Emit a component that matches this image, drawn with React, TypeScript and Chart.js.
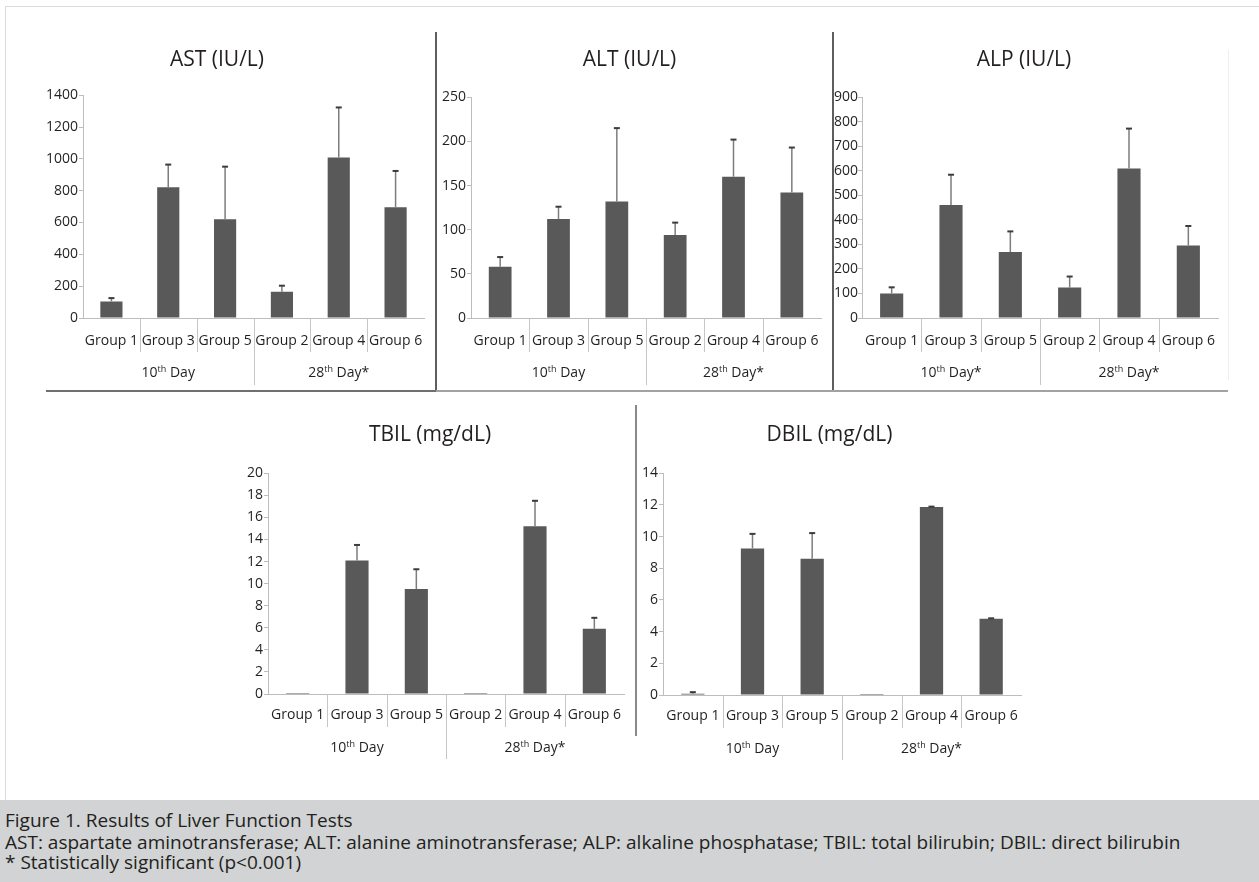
import React, { useEffect, useRef } from "react";
import { Chart, registerables } from "chart.js";
Chart.register(...registerables);

// ---------- data ----------
const groupLabels = ["Group 1", "Group 3", "Group 5", "Group 2", "Group 4", "Group 6"];

const astMeans = [104, 821, 621, 165, 1009, 696];
const astErrors = [21, 143, 330, 38, 314, 228];

const altMeans = [58, 112, 132, 94, 160, 142];
const altErrors = [11, 14, 83, 14, 42, 51];

const alpMeans = [100, 461, 269, 124, 609, 296];
const alpErrors = [25, 123, 84, 45, 163, 79];

const tbilMeans = [0.1, 12.1, 9.5, 0.1, 15.2, 5.9];
const tbilErrors = [0, 1.4, 1.8, 0, 2.3, 1.0];

const dbilMeans = [0.08, 9.25, 8.6, 0.06, 11.87, 4.82];
const dbilErrors = [0.1, 0.92, 1.62, 0, 0.02, 0.02];

// day group labels: [number, superscript, rest]
const dayLabelsA = [["10", "th", " Day"], ["28", "th", " Day*"]];
const dayLabelsB = [["10", "th", " Day*"], ["28", "th", " Day*"]];

const captionTitle = "Figure 1. Results of Liver Function Tests";
const captionAbbrev =
  "AST: aspartate aminotransferase; ALT: alanine aminotransferase; ALP: alkaline phosphatase; TBIL: total bilirubin; DBIL: direct bilirubin";
const captionNote = "* Statistically significant (p<0.001)";

// ---------- panel layout ----------
type Panel = {
  title: string;
  means: number[];
  errors: number[];
  days: string[][];
  yMax: number;
  yStep: number;
  left: number;
  top: number;
  width: number;
  height: number;
  yW: number;
  xH: number;
  padRight: number;
  tPadTop: number;
  tPadBottom: number;
  labelPad: number;
  yPad: number;
  shortTick: number;
  longTick: number;
  dayOffset: number;
};

const panels: Panel[] = [
  { title: "AST (IU/L)", means: astMeans, errors: astErrors, days: dayLabelsA, yMax: 1400, yStep: 200,
    left: 10, top: 30, width: 467, height: 360, yW: 73, xH: 72, padRight: 53, tPadTop: 17, tPadBottom: 23,
    labelPad: 15, yPad: 1, shortTick: 34, longTick: 67, dayOffset: 54 },
  { title: "ALT (IU/L)", means: altMeans, errors: altErrors, days: dayLabelsA, yMax: 250, yStep: 50,
    left: 438, top: 30, width: 400, height: 360, yW: 33, xH: 72, padRight: 17, tPadTop: 17, tPadBottom: 25,
    labelPad: 15, yPad: 1, shortTick: 34, longTick: 67, dayOffset: 54 },
  { title: "ALP (IU/L)", means: alpMeans, errors: alpErrors, days: dayLabelsB, yMax: 900, yStep: 100,
    left: 830, top: 30, width: 411, height: 360, yW: 32, xH: 72, padRight: 23, tPadTop: 17, tPadBottom: 25,
    labelPad: 15, yPad: 0, shortTick: 34, longTick: 67, dayOffset: 54 },
  { title: "TBIL (mg/dL)", means: tbilMeans, errors: tbilErrors, days: dayLabelsA, yMax: 20, yStep: 2,
    left: 236, top: 405, width: 418, height: 355, yW: 32, xH: 66, padRight: 30, tPadTop: 17, tPadBottom: 26,
    labelPad: 13, yPad: 1, shortTick: 33, longTick: 65, dayOffset: 53 },
  { title: "DBIL (mg/dL)", means: dbilMeans, errors: dbilErrors, days: dayLabelsA, yMax: 14, yStep: 2,
    left: 638, top: 405, width: 410, height: 355, yW: 25, xH: 65, padRight: 27, tPadTop: 17, tPadBottom: 26,
    labelPad: 13, yPad: 1, shortTick: 33, longTick: 65, dayOffset: 53 },
];

const FONT = "'Open Sans', 'DejaVu Sans', sans-serif";

function makeDecor(p: Panel) {
  return {
    id: "decor",
    afterDatasetsDraw(chart: any) {
      const { ctx } = chart;
      const y = chart.scales.y;
      const meta = chart.getDatasetMeta(0);
      ctx.save();
      meta.data.forEach((bar: any, i: number) => {
        const e = p.errors[i];
        if (!e) return;
        const v = p.means[i];
        const yb = y.getPixelForValue(v);
        const yt = y.getPixelForValue(v + e);
        ctx.strokeStyle = "#7d7d7d";
        ctx.lineWidth = 1.5;
        ctx.beginPath();
        ctx.moveTo(bar.x, yb);
        ctx.lineTo(bar.x, yt);
        ctx.stroke();
        ctx.strokeStyle = "#3c3c3c";
        ctx.lineWidth = 2;
        ctx.beginPath();
        ctx.moveTo(bar.x - 3, yt);
        ctx.lineTo(bar.x + 3, yt);
        ctx.stroke();
      });
      ctx.restore();
    },
    afterDraw(chart: any) {
      const { ctx, chartArea } = chart;
      const x = chart.scales.x;
      const base = chartArea.bottom;
      ctx.save();
      ctx.strokeStyle = "#c6c6c6";
      ctx.lineWidth = 1;
      for (let i = 0; i < groupLabels.length - 1; i++) {
        const xb = Math.round((x.getPixelForValue(i) + x.getPixelForValue(i + 1)) / 2) + 0.5;
        const len = i === 2 ? p.longTick : p.shortTick;
        ctx.beginPath();
        ctx.moveTo(xb, base);
        ctx.lineTo(xb, base + len);
        ctx.stroke();
      }
      ctx.fillStyle = "#231f20";
      ctx.textBaseline = "alphabetic";
      ctx.textAlign = "left";
      p.days.forEach((d, g) => {
        const cx = (x.getPixelForValue(g * 3) + x.getPixelForValue(g * 3 + 2)) / 2;
        const big = `14px ${FONT}`;
        const small = `9px ${FONT}`;
        ctx.font = big;
        const w1 = ctx.measureText(d[0]).width;
        const w3 = ctx.measureText(d[2]).width;
        ctx.font = small;
        const w2 = ctx.measureText(d[1]).width;
        let sx = cx - (w1 + w2 + w3) / 2;
        const by = base + p.dayOffset + 5;
        ctx.font = big;
        ctx.fillText(d[0], sx, by);
        sx += w1;
        ctx.font = small;
        ctx.fillText(d[1], sx, by - 5);
        sx += w2;
        ctx.font = big;
        ctx.fillText(d[2], sx, by);
      });
      ctx.restore();
    },
  };
}

function BarPanel({ p }: { p: Panel }) {
  const ref = useRef<HTMLCanvasElement>(null);
  useEffect(() => {
    if (!ref.current) return;
    const chart = new Chart(ref.current, {
      type: "bar",
      data: {
        labels: groupLabels,
        datasets: [
          {
            data: p.means,
            backgroundColor: "#595959",
            borderWidth: 0,
            barPercentage: 0.39,
            categoryPercentage: 1,
          },
        ],
      },
      options: {
        responsive: false,
        maintainAspectRatio: false,
        animation: false,
        events: [],
        layout: { padding: { top: 0, left: 0, right: p.padRight, bottom: 0 } },
        plugins: {
          legend: { display: false },
          tooltip: { enabled: false },
          title: {
            display: true,
            text: p.title,
            color: "#231f20",
            font: { family: FONT, size: 21, weight: "normal", lineHeight: 1.2 },
            padding: { top: p.tPadTop, bottom: p.tPadBottom },
          },
        },
        scales: {
          x: {
            type: "category",
            offset: true,
            grid: { display: false, drawTicks: false },
            border: { display: true, color: "#bdbdbd", width: 1 },
            ticks: {
              color: "#231f20",
              font: { family: FONT, size: 14 },
              padding: p.labelPad,
              maxRotation: 0,
              autoSkip: false,
            },
            afterFit: (s: any) => {
              s.height = p.xH;
            },
          },
          y: {
            min: 0,
            max: p.yMax,
            grid: { drawOnChartArea: false, drawTicks: true, tickLength: 4, tickColor: "#bdbdbd" },
            border: { display: true, color: "#bdbdbd", width: 1 },
            ticks: {
              stepSize: p.yStep,
              color: "#231f20",
              font: { family: FONT, size: 14 },
              padding: p.yPad,
              callback: (v: any) => String(v),
            },
            afterFit: (s: any) => {
              s.width = p.yW;
            },
          },
        },
      },
      plugins: [makeDecor(p)],
    } as any);
    return () => chart.destroy();
  }, [p]);
  return (
    <canvas
      ref={ref}
      width={p.width}
      height={p.height}
      style={{ position: "absolute", left: p.left, top: p.top, width: p.width, height: p.height }}
    />
  );
}

function Line({ l, t, w, h, c }: { l: number; t: number; w: number; h: number; c: string }) {
  return <div style={{ position: "absolute", left: l, top: t, width: w, height: h, background: c }} />;
}

export default function App() {
  return (
    <div
      style={{
        position: "absolute",
        left: 0,
        top: 0,
        width: 1259,
        height: 882,
        background: "#ffffff",
        overflow: "hidden",
        fontFamily: FONT,
      }}
    >
      {/* outer frame */}
      <Line l={5} t={6} w={1254} h={1} c="#dcdcdc" />
      <Line l={5} t={6} w={1} h={794} c="#dcdcdc" />
      {/* separators */}
      <Line l={435} t={32} w={2} h={360} c="#5e5e5e" />
      <Line l={832} t={32} w={2} h={360} c="#5e5e5e" />
      <Line l={46} t={390} w={390} h={2} c="#6f6f6f" />
      <Line l={436} t={390} w={792} h={2} c="#a2a2a2" />
      <Line l={635} t={405} w={2} h={331} c="#8a8a8a" />
      <Line l={1228} t={50} w={1} h={330} c="#eeeeee" />
      {panels.map((p, i) => (
        <BarPanel key={i} p={p} />
      ))}
      {/* caption */}
      <div
        style={{
          position: "absolute",
          left: 0,
          top: 800,
          width: 1259,
          height: 82,
          background: "#d1d3d4",
          color: "#231f20",
          fontSize: 19,
          lineHeight: "21px",
          whiteSpace: "nowrap",
        }}
      >
        <div style={{ position: "absolute", left: 5, top: 10 }}>{captionTitle}</div>
        <div style={{ position: "absolute", left: 5, top: 32 }}>{captionAbbrev}</div>
        <div style={{ position: "absolute", left: 5, top: 52 }}>{captionNote}</div>
      </div>
    </div>
  );
}
